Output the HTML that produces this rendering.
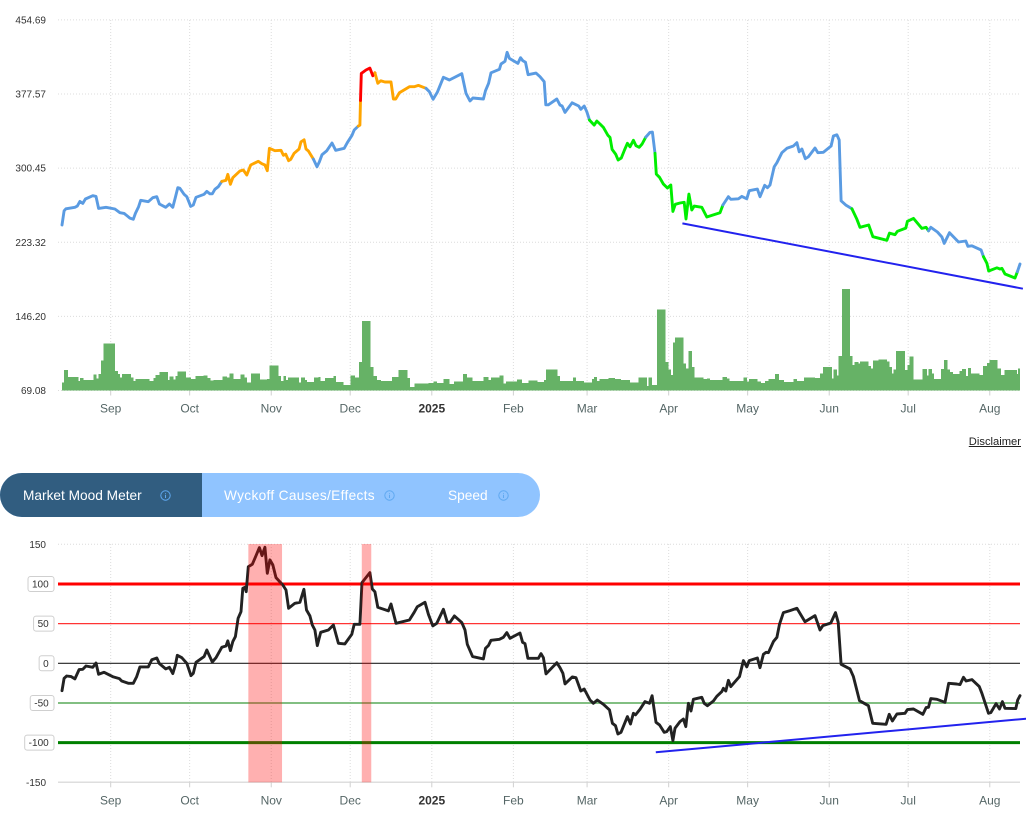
<!DOCTYPE html>
<html lang="en">
<head>
<meta charset="utf-8">
<title>Market Mood Chart</title>
<style>
  html, body { margin: 0; padding: 0; background: #fff; }
  body { width: 1026px; height: 821px; position: relative; overflow: hidden; font-family: "Liberation Sans", sans-serif; }
  #charts { position: absolute; left: 0; top: 0; }
  #disclaimer { position: absolute; right: 5px; top: 436px; font-size: 11.2px; line-height: 13px; color: #222; text-decoration: underline; }
  #tabs { position: absolute; left: 0; top: 473px; width: 540px; height: 44px; background: #90c4ff; border-radius: 22px; overflow: hidden; }
  #tab-dark { position: absolute; left: 0; top: 0; width: 202px; height: 44px; background: #315d80; }
  .tab-label { position: absolute; top: 1px; line-height: 44px; font-size: 13.7px; color: #fff; white-space: nowrap; }
  .info { position: absolute; top: 16.5px; width: 11px; height: 11px; }
</style>
</head>
<body>
<svg id="charts" width="1026" height="821" viewBox="0 0 1026 821"></svg>

<div id="disclaimer">Disclaimer</div>

<div id="tabs">
  <div id="tab-dark"></div>
  <span class="tab-label" style="left:23px">Market Mood Meter</span>
  <svg class="info" style="left:160px" viewBox="0 0 11 11"><circle cx="5.5" cy="5.5" r="4.7" fill="none" stroke="#5fa8f0" stroke-width="1"/><path d="M5.5 4.8V8M5.5 3V3.8" stroke="#5fa8f0" stroke-width="1"/></svg>
  <span class="tab-label" style="left:224px;letter-spacing:.32px">Wyckoff Causes/Effects</span>
  <svg class="info" style="left:384px" viewBox="0 0 11 11"><circle cx="5.5" cy="5.5" r="4.7" fill="none" stroke="#5fa8f0" stroke-width="1"/><path d="M5.5 4.8V8M5.5 3V3.8" stroke="#5fa8f0" stroke-width="1"/></svg>
  <span class="tab-label" style="left:448px">Speed</span>
  <svg class="info" style="left:498px" viewBox="0 0 11 11"><circle cx="5.5" cy="5.5" r="4.7" fill="none" stroke="#5fa8f0" stroke-width="1"/><path d="M5.5 4.8V8M5.5 3V3.8" stroke="#5fa8f0" stroke-width="1"/></svg>
</div>

<script>
/* ---------- DATA (days counted from the left edge of the range) ---------- */
const monthLabels = ['Sep','Oct','Nov','Dec','2025','Feb','Mar','Apr','May','Jun','Jul','Aug'];
const monthDays = [18.5,48.5,79.5,109.5,140.5,171.5,199.5,230.5,260.5,291.5,321.5,352.5];
const priceTicks = ['454.69','377.57','300.45','223.32','146.20','69.08'];
const moodTicks = [150,100,50,0,-50,-100,-150];

const priceDays = [
  0,.8,1.5,4.9,5.8,6.8,7.9,8.9,11.7,12.9,
  13.9,16.7,20.1,22,23.6,25.8,27.1,27.9,29.1,29.9,
  32.8,34.5,36,37,39.4,40.8,42.1,43.1,44,44.8,
  46.4,47.4,48.9,49.9,50.9,54,55,56.2,57.1,58.1,
  59.4,60.7,62.3,63,64,64.9,67.6,68.9,70.2,71.7,
  74.6,75.9,77.1,78,78.8,80.9,83.2,84.1,85,86.1,
  86.9,88.2,90.1,90.8,92,92.7,93.6,95.5,96.9,97.8,
  98.8,100.6,102.6,104,107.2,108.4,110.2,111,112.6,113.2,
  113.4,113.7,115.5,117,118.1,118.9,120,121.1,122.7,125,
  125.9,126.8,128.2,132,133.8,135.4,138.3,139.6,141,142.6,
  144.9,147.2,151.9,153.5,155,156.1,160.1,160.9,162.1,163,
  166.2,166.8,168.3,169.1,170,173.2,174.2,175.1,176.1,177.1,
  180.1,181.6,183.2,183.8,184.8,188,189.2,190,191.1,193.8,
  196.3,197.1,198.4,199.4,200.4,202.2,203.2,204.4,205.7,207.4,
  208.2,209,210.4,211.3,212.5,213.7,214.8,215.8,217.1,218.1,
  219.3,220.4,221.8,223.4,224.3,225.3,225.8,227,228.5,230,
  231.3,232.1,233,234.8,236.4,237.1,238.2,239.3,240.2,243.1,
  245,250,251.1,253.2,254.1,257,258.3,260.2,261.1,264.2,
  265.2,267,268,269,270.6,271.6,273.5,275.4,277.9,279.2,
  280.1,281.1,282.4,283.6,286.1,287.2,289.3,292.2,293.1,294.4,
  295.3,296,297.9,300.1,302,303.2,306.5,308.1,313.4,314.4,
  316.5,317.4,320.6,321.2,323.5,326.7,328.3,329.2,330.1,332.6,
  334.3,335.2,337.2,340.6,343.4,344.2,345.7,349.2,350.1,351.4,
  352.1,355.2,356.4,357.1,358.3,362.1,363,364
];
const priceValues = [
  241.3,256.1,258.2,259.7,261,265.9,263.8,268.3,271.8,271.1,
  258.6,259.7,257.9,254.1,253.4,248.5,247.2,253.4,260.3,267,
  265.5,269.7,270.7,263.1,259.7,263.1,259.7,270.1,280.1,279.5,
  273.2,270.7,260.7,262.1,270.1,273.2,276.3,273.8,273.8,278.4,
  281.1,286.7,287.8,294,283.6,290.5,297.5,298.5,293.3,303.7,
  307.6,305.1,303.7,297.8,321.1,318.6,319,313.8,315.1,308.2,
  309.6,315.9,320.4,327.9,330,320.4,318.3,309.9,301.9,307.1,
  314.4,318.6,326.6,319,321.1,326.9,334.6,340.1,344.3,345.3,
  371,399.1,402.6,404.6,396.6,399.7,388.7,391.4,390.1,390.1,
  372.4,372.4,378.9,385.2,385.2,386.6,383.5,380,372.1,379.4,
  395,392.2,398.7,378.3,370.3,373.4,372.4,381,388.7,399.7,
  403.3,408.8,411.6,421,414.7,409.5,415.4,412.2,410.6,397.7,
  399.4,395.6,390.4,366.4,366.4,372.4,366.1,365.1,358.5,368.5,
  365.1,361.7,365.1,359.2,350.5,345.3,349.5,346.4,342.9,334.6,
  332.5,320,314.8,308.9,311,319.3,326.3,322.7,329.4,323.8,
  322.1,325.6,332.8,337.7,338,315.9,294.3,290.9,283.9,279.8,
  282.9,255.5,262.8,264.2,264.9,247.5,273.5,256.9,261,259.7,
  249.6,254.1,262.1,270.7,268,268.6,271.1,268.6,277,278.7,
  270.7,282.6,280.1,282.9,301.9,306.1,316.5,321.1,323.5,326.9,
  317.5,320.4,310.3,312.3,321.4,316.5,316.9,323.5,333.9,335.2,
  329.7,266.5,261.8,258.2,247.2,238.9,241.3,229.1,225.4,232.9,
  231.2,234.7,238.1,245.1,248.2,237.8,238.9,235.3,238.9,234,
  228.8,222.2,233.3,223.6,224.6,219.1,219.7,215.3,208.3,201.4,
  193.4,196.8,195.5,196.2,190.3,186.1,192.7,200.7
];

/* momentum zones: day each zone begins, and which zone it is */
const zoneStartDays = [0,60.7,95.5,112.6,113.4,118.9,138.3,200.4,221.8,225.3,251.1,300.1,329.2,350.1,363];
const zoneNames = ['neutral','elevated','neutral','elevated','extreme','elevated','neutral','low','neutral','low','neutral','low','neutral','low','neutral'];

const priceTrendDays = [235.7,365.1];
const priceTrendValues = [243,175];

const volumeDays = [
  0,.8,2.2,6.2,6.8,8.1,11.9,13.2,13.9,14.8,15.8,20.1,21.2,22,22.8,26.2,27.1,27.9,33.2,34.7,
  35.6,37,40.2,40.8,42.3,43.1,43.8,47.1,49,50.8,53.7,55.2,56.5,57.5,60.9,62.6,63.6,65.1,67.9,69.3,
  70.2,71.8,75.2,77.8,78.8,82.2,83.2,84.1,85.1,85.8,90.1,90.8,92.3,93,95.8,97.4,98.3,99.9,103.1,104.1,
  106.9,109.7,111.3,112.9,113.9,117.3,118.3,119.6,121.2,125.3,127.9,131.2,132.2,133.9,139.2,141.1,142.4,144.9,147.2,149,
  152.3,153.8,156,160.1,162,162.9,166.2,167.7,168.7,172.8,174.7,177.2,180.6,183.2,183.9,188.2,189.2,194.1,195.3,198.4,
  201.3,202.2,203.2,204.2,207.6,210.1,212.3,215.8,219,222.2,222.9,224.2,226,229.3,230.4,231.3,232.1,232.9,236.2,237.1,
  238,239.3,240.3,243.7,245,246.2,250.9,252.6,253.6,258.9,260.2,261.1,264.2,265.5,267.1,268.4,270.9,272.5,274.4,277.9,
  279.2,282,286.1,288,289.1,292.5,293.1,294.4,295,296.3,299.4,300.3,301.1,302.6,303.2,306.4,307.3,308.1,310.2,313.4,
  314.4,315.3,315.9,316.9,320.3,321.2,322,323.5,327,328.6,329.2,330.5,331.4,334,335.2,336.5,337.4,338.5,341,341.9,
  343.5,344.2,345.3,348.6,349.9,351.4,352.3,355.4,356.7,358,362.8,363.3
];
const volumeValues = [
  8,20.7,13.7,9.3,12.3,10.3,16,12,16.3,30,47,19.7,16.3,13,16.3,13,9.7,11.7,9.7,12.7,
  15.7,18.3,10.3,14,11,14.3,19,13,11.7,14.3,15,12.3,10,10.3,14,13,17,11.3,16,13,
  8,17,11,11.7,25,14.7,9.3,14.3,10.3,13,8,13,10.3,8.7,13,13.7,9.7,12.3,14.3,8.3,
  5.7,15,13,28.3,69.3,23.7,14.3,10.3,9.7,13.7,20.3,12.7,3.7,7,7.7,9,7.3,11.7,6.7,9,
  16.3,13,9.3,13.7,10.3,13,15,7,9,11,7.7,10,8.7,10.3,21,14.7,9.7,13,9.3,8,
  11.7,13.7,9.3,11.3,12.7,11.3,10.3,8,13,4.7,13,5.3,81,28.3,21,15.3,48,53,27,22,
  39.7,23.7,13,11.3,12,10.7,13.7,12,9.3,13,9,11.7,9,7.7,9.7,11.3,16.3,10.3,8.3,11.3,
  9.3,13,12.3,17,23.3,12,21,15,34.3,101.3,34.3,25.3,28.3,27,29,24.3,22,30,31,29,
  23.7,17,21,39.3,20.3,25.3,34,11,21.3,15,21.3,17,11.3,21.7,30.3,21,18.7,16.7,19.7,21.3,
  14.7,22.3,17,15.3,24.3,27.7,30.3,22,15.3,20.7,16.3,22
];

const moodDays = [
  0,.8,1.8,3.5,4.9,6.5,7.9,9.1,11.7,12.9,13.9,16,19.5,21.8,22.7,25.2,27.1,28.4,29.6,32.8,
  34.1,36,37,39.4,40.8,42.1,43.1,43.8,45.5,47.4,49,49.9,50.9,54,55,57.1,58.5,60.7,62.3,63,
  64,64.9,65.9,66.9,68,68.7,69.5,70,70.8,72.3,73.3,75,76,77.1,78,79,80.1,81.3,83.9,85.1,
  86.1,88.5,90.4,91.9,92.9,94.2,95.1,96.1,97,98.3,101.2,103.1,105,107.5,110.1,111,113.2,114,117,117.9,
  118.9,120,124,125,126.9,132,133.8,135,137.9,139.2,140.9,142.4,144.9,146.4,147.4,149.1,151.9,153.1,154,156,
  160.1,160.9,162,163,166.2,167.7,169,170.2,174,175,175.9,177,181,182,182.9,183.9,188,189.2,190.3,191.1,
  193.9,195.3,197.1,198.4,200.6,201.9,203.4,205.7,208,209.1,210.3,211.2,212.4,214.8,216,217.1,217.9,219.6,221.5,223.2,
  224.2,225.7,227,228.8,229.8,231.1,232.1,232.9,234.8,236.1,237,238,239,239.9,243.1,244,245.2,247.5,248.8,250.7,
  251.3,252.2,253.2,254.1,257.4,258.9,260.2,261.1,264.2,265.2,266.5,267.5,268.4,270.3,271.6,272.6,274.1,276.6,279.2,282.3,
  286.1,288,289.1,292.1,293.9,294.9,296,299.4,300.7,303,306.4,308,313.1,314.3,315.5,317.2,320.3,321.2,323.5,327.1,
  328.3,329.2,330.1,332.4,335.5,336.9,339.9,341.2,342.5,343.5,345.7,348.5,349.5,352,352.9,354.9,356.2,357.3,358.3,362.4,
  363.1,364
];
const moodValues = [
  -34.5,-18.9,-16,-16.8,-19.7,-8,-7.6,-3.4,-5,.4,-13.9,-11.3,-17.2,-19.3,-22.3,-25.2,-25.2,-16.8,-4.6,-4.6,
  4.6,6.7,-.4,-7.1,-5,-13,-2.1,10.1,7.1,0,-15.5,-12.6,1.3,8.4,16.8,1.7,7.1,20.2,21.8,28.2,
  16,27.3,33.6,56.7,65.1,94.5,95.8,90.3,121.8,124.8,132.4,145.8,135.7,146.2,113.4,130.3,124,108,98.7,92.4,
  69.3,75.6,76.9,93.3,67.2,59.7,48.3,42,22.3,39.1,42,48.3,25.2,24.4,36.6,49.2,49.2,101.7,114.3,93.7,
  90.3,70.6,66,74.8,50.4,54.6,64.3,71.4,76.9,61.8,47.1,50.4,68.1,51.7,51.7,59.7,51.3,42,24,8.4,
  5.5,18.9,22.3,29,30.3,32.8,38.7,31.5,38.2,26.5,24.8,6.3,6.3,12.2,7.1,-13.4,.8,-5.5,-12.6,-26,
  -17.2,-18.1,-34.9,-32.4,-46.2,-50.4,-46.2,-51.7,-58.8,-75.6,-78.6,-89.1,-87,-67.2,-76.5,-63,-65.1,-58,-48.3,-50.4,
  -40.8,-74.4,-77.7,-87,-86.1,-79.8,-97.5,-81.9,-73.5,-70.2,-79.8,-50.4,-60.1,-45.4,-42.9,-50.4,-53.4,-47.5,-41.6,-35.7,
  -31.5,-34.9,-21.4,-29.4,-16.8,3.4,-4.6,3.4,6.7,-5.5,11.3,13.9,13.4,27.3,32.8,49.2,63.9,66.4,69.3,52.5,
  60.1,42,47.5,50.8,63.9,51.7,-1.3,-7.1,-16.8,-47.1,-53.4,-75.6,-76.9,-64.3,-72.7,-63.9,-63,-58.4,-57.6,-64.3,
  -55.9,-55.5,-44.5,-45.4,-49.2,-25.2,-26.1,-26.9,-17.6,-22.3,-20.6,-29.4,-37.8,-63,-62.2,-50.8,-57.6,-48.3,-56.7,-57.1,
  -46.2,-40.8
];
const moodTrendDays = [225.6,366.3];
const moodTrendValues = [-112.2,-69.8];
const overboughtStartDays = [70.8,113.9];
const overboughtEndDays = [83.6,117.5];

/* ---------- AXIS FUNCTIONS ---------- */
const xDay = d => 62 + d * 2.632;
const yPrice = v => 390.5 - (v - 69.08) * 0.961;
const yVolume = v => 390.5 - v;
const yMood = v => 663.3 - v * 0.7933;

const SVG_NS = 'http://www.w3.org/2000/svg';
const root = document.getElementById('charts');
const zoneColors = { neutral: '#5a9be2', elevated: '#ffa500', extreme: '#ff0000', low: '#00ee00' };

function make(tag, attrs, parent) {
  const el = document.createElementNS(SVG_NS, tag);
  for (const k in attrs) el.setAttribute(k, attrs[k]);
  (parent || root).appendChild(el);
  return el;
}
function zoneAt(day) {
  let z = zoneNames[0];
  for (let i = 0; i < zoneStartDays.length; i++) if (day >= zoneStartDays[i]) z = zoneNames[i];
  return z;
}
function pts(days, vals, yFn) {
  return days.map((d, i) => xDay(d).toFixed(1) + ',' + yFn(vals[i]).toFixed(1)).join(' ');
}

/* ---------- GRID + AXES ---------- */
function drawGrid(group, top, bottom) {
  monthDays.forEach((d, i) => {
    const grid = make('line', { x1: xDay(d), x2: xDay(d), y1: top, y2: bottom, stroke: '#dcdcdc', 'stroke-width': 1, 'stroke-dasharray': '1 2' }, group);
    
    
    const tick = make('line', { x1: xDay(d), x2: xDay(d), y1: bottom, y2: bottom + 5, stroke: '#d0d0d0', 'stroke-width': 1 }, group);
    
    
    const isYear = monthLabels[i] === '2025';
    const label = make('text', { x: xDay(d), y: bottom + 22, 'text-anchor': 'middle', 'font-size': 12, 'font-weight': isYear ? 'bold' : 'normal', fill: isYear ? '#333' : '#566' }, group);
    label.textContent = monthLabels[i];
    
    
  });
}

/* top chart */
const topChart = make('g', {});


priceTicks.forEach(t => {
  const y = yPrice(parseFloat(t));
  const g = make('line', { x1: 58, x2: 1020, y1: y, y2: y, stroke: '#dcdcdc', 'stroke-width': 1, 'stroke-dasharray': '1 2' }, topChart);
  
  
  const l = make('text', { x: 46, y: y + 3.5, 'text-anchor': 'end', 'font-size': 10, fill: '#333' }, topChart);
  l.textContent = t;
  
  
});
drawGrid(topChart, 20, 390.5);

/* volume bars */
const volumeGroup = make('g', { 'shape-rendering': 'crispEdges' }, topChart);


volumeDays.forEach((d, i) => {
  const next = i + 1 < volumeDays.length ? volumeDays[i + 1] : 364;
  const bar = make('rect', { x: xDay(d), width: xDay(next) - xDay(d), y: yVolume(volumeValues[i]), height: 390.5 - yVolume(volumeValues[i]), fill: '#66b266' }, volumeGroup);
  
  
});

/* price line by zone */
const priceGroup = make('g', { fill: 'none', 'stroke-width': 2.9, 'stroke-linejoin': 'round', 'stroke-linecap': 'round' }, topChart);


let runStart = 0;
for (let i = 1; i <= priceDays.length; i++) {
  const ended = i === priceDays.length || zoneAt(priceDays[i]) !== zoneAt(priceDays[runStart]);
  if (ended) {
    const last = Math.min(i, priceDays.length - 1);
    const seg = make('polyline', {
      points: pts(priceDays.slice(runStart, last + 1), priceValues.slice(runStart, last + 1), yPrice),
      stroke: zoneColors[zoneAt(priceDays[runStart])]
    }, priceGroup);
    
    
    runStart = i;
  }
}
const priceTrend = make('polyline', { points: pts(priceTrendDays, priceTrendValues, yPrice), fill: 'none', stroke: '#2222ee', 'stroke-width': 2 }, topChart);



/* mood chart */
const moodChart = make('g', {});


[150, -150].forEach(v => {
  const isBottom = v < 0;
  const g = make('line', { x1: 58, x2: 1020, y1: yMood(v), y2: yMood(v), stroke: isBottom ? '#dedede' : '#dcdcdc', 'stroke-width': isBottom ? 1.5 : 1, 'stroke-dasharray': isBottom ? 'none' : '1 2' }, moodChart);
  
  
});
drawGrid(moodChart, 544, 782.3);

const refValues = [100, 50, 0, -50, -100];
const refColors = ['#ff0000', '#ff3434', '#222222', '#82bf82', '#008000'];
const refWidths = [3, 1.2, 1.2, 2, 3];
refValues.forEach((v, i) => {
  const l = make('line', { x1: 58, x2: 1020, y1: yMood(v), y2: yMood(v), stroke: refColors[i], 'stroke-width': refWidths[i] }, moodChart);
  
  
});

const moodLine = make('polyline', { points: pts(moodDays, moodValues, yMood), fill: 'none', stroke: '#222', 'stroke-width': 2.9, 'stroke-linejoin': 'round', 'stroke-linecap': 'round' }, moodChart);



overboughtStartDays.forEach((d, i) => {
  const band = make('rect', { x: xDay(d), width: xDay(overboughtEndDays[i]) - xDay(d), y: 544, height: 238.3, fill: '#ff0000', 'fill-opacity': 0.31 }, moodChart);
  
  
});

const moodTrend = make('polyline', { points: pts(moodTrendDays, moodTrendValues, yMood), fill: 'none', stroke: '#2222ee', 'stroke-width': 2 }, moodChart);



moodTicks.forEach(v => {
  const y = yMood(v);
  const boxed = Math.abs(v) !== 150;
  const label = make('text', { x: boxed ? 48.7 : 46, y: y + 3.5, 'text-anchor': 'end', 'font-size': 10, fill: '#333' }, moodChart);
  label.textContent = String(v);
  
  
  if (boxed) {
    const w = label.getComputedTextLength();
    const left = 48.7 - w - 4;
    const box = make('rect', { x: left, y: y - 7.5, width: 54 - left, height: 15, rx: 2.5, fill: '#fff', stroke: '#cfcfcf', 'stroke-width': 1 }, moodChart);
    
    
    moodChart.appendChild(label);
  }
});
</script>
</body>
</html>
